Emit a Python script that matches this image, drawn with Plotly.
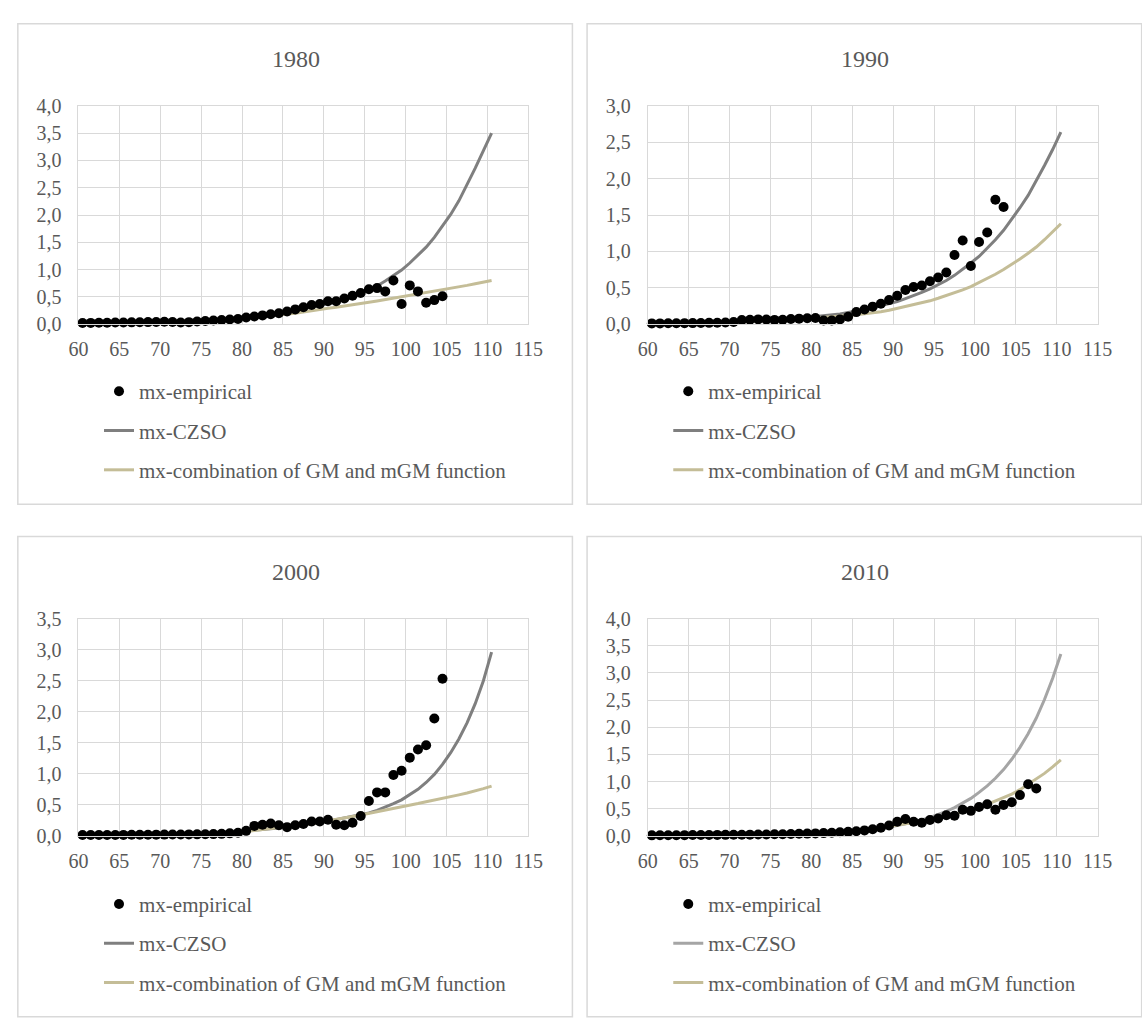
import plotly.graph_objects as go

# Ages at mid-year (60.5 ... 110.5)
AGES = [a + 0.5 for a in range(60, 111)]

# ---- 1980 ----
EMP_1980 = [0.020, 0.022, 0.024, 0.026, 0.028, 0.030, 0.032, 0.034, 0.037, 0.040,
            0.044, 0.038, 0.030, 0.036, 0.048, 0.058, 0.066, 0.074, 0.083, 0.095,
            0.12, 0.14, 0.16, 0.18, 0.20, 0.23, 0.27, 0.31, 0.35, 0.37,
            0.42, 0.42, 0.47, 0.52, 0.57, 0.64, 0.66, 0.60, 0.80, 0.37,
            0.71, 0.60, 0.39, 0.44, 0.51]
CZSO_1980 = [0.016, 0.018, 0.020, 0.022, 0.024, 0.027, 0.030, 0.033, 0.037, 0.041,
             0.045, 0.050, 0.056, 0.062, 0.069, 0.077, 0.086, 0.096, 0.107, 0.119,
             0.132, 0.147, 0.163, 0.180, 0.200, 0.225, 0.250, 0.280, 0.310, 0.340,
             0.38, 0.42, 0.46, 0.51, 0.57, 0.63, 0.70, 0.79, 0.89, 0.99,
             1.12, 1.26, 1.41, 1.59, 1.79, 2.01, 2.26, 2.55, 2.86, 3.18, 3.50]
COMB_1980 = [0.016, 0.018, 0.020, 0.022, 0.024, 0.027, 0.030, 0.033, 0.037, 0.041,
             0.045, 0.050, 0.055, 0.061, 0.067, 0.074, 0.081, 0.089, 0.098, 0.108,
             0.118, 0.129, 0.141, 0.154, 0.168, 0.183, 0.200, 0.225, 0.250, 0.270,
             0.290, 0.310, 0.330, 0.355, 0.380, 0.400, 0.425, 0.450, 0.475, 0.500,
             0.525, 0.550, 0.575, 0.600, 0.625, 0.650, 0.680, 0.710, 0.740, 0.770, 0.800]

# ---- 1990 ----
EMP_1990 = [0.010, 0.010, 0.011, 0.012, 0.013, 0.014, 0.015, 0.017, 0.019, 0.022,
            0.030, 0.055, 0.060, 0.065, 0.062, 0.058, 0.060, 0.070, 0.075, 0.080,
            0.085, 0.050, 0.050, 0.065, 0.10, 0.165, 0.20, 0.24, 0.28, 0.33,
            0.39, 0.47, 0.51, 0.53, 0.59, 0.64, 0.71, 0.95, 1.15, 0.80,
            1.13, 1.26, 1.71, 1.61]
CZSO_1990 = [0.012, 0.013, 0.015, 0.016, 0.018, 0.020, 0.022, 0.024, 0.027, 0.030,
             0.034, 0.038, 0.042, 0.047, 0.052, 0.058, 0.065, 0.072, 0.080, 0.090,
             0.100, 0.110, 0.125, 0.140, 0.160, 0.178, 0.200, 0.225, 0.250, 0.280,
             0.31, 0.35, 0.39, 0.435, 0.485, 0.54, 0.60, 0.67, 0.75, 0.84,
             0.93, 1.04, 1.16, 1.29, 1.44, 1.60, 1.77, 1.97, 2.18, 2.40, 2.64]
COMB_1990 = [0.012, 0.013, 0.014, 0.016, 0.017, 0.019, 0.021, 0.023, 0.025, 0.028,
             0.031, 0.034, 0.037, 0.041, 0.045, 0.050, 0.055, 0.061, 0.067, 0.074,
             0.082, 0.090, 0.098, 0.107, 0.117, 0.128, 0.140, 0.155, 0.170, 0.190,
             0.215, 0.240, 0.265, 0.290, 0.320, 0.355, 0.390, 0.430, 0.470, 0.515,
             0.570, 0.625, 0.685, 0.750, 0.820, 0.895, 0.975, 1.060, 1.160, 1.265, 1.380]

# ---- 2000 ----
EMP_2000 = [0.012, 0.012, 0.013, 0.013, 0.014, 0.015, 0.016, 0.017, 0.018, 0.019,
            0.020, 0.021, 0.022, 0.023, 0.024, 0.026, 0.028, 0.032, 0.040, 0.050,
            0.08, 0.16, 0.18, 0.20, 0.17, 0.14, 0.17, 0.19, 0.23, 0.23,
            0.26, 0.18, 0.17, 0.21, 0.32, 0.56, 0.70, 0.70, 0.98, 1.05,
            1.26, 1.39, 1.46, 1.89, 2.53]
CZSO_2000 = [0.010, 0.011, 0.012, 0.013, 0.014, 0.015, 0.017, 0.019, 0.021, 0.023,
             0.025, 0.028, 0.031, 0.034, 0.038, 0.042, 0.047, 0.053, 0.060, 0.068,
             0.080, 0.090, 0.100, 0.110, 0.125, 0.140, 0.155, 0.170, 0.190, 0.210,
             0.235, 0.260, 0.285, 0.310, 0.340, 0.370, 0.410, 0.460, 0.520, 0.580,
             0.66, 0.75, 0.86, 0.99, 1.15, 1.34, 1.56, 1.82, 2.13, 2.50, 2.96]
COMB_2000 = [0.010, 0.011, 0.012, 0.013, 0.014, 0.015, 0.017, 0.019, 0.021, 0.023,
             0.025, 0.027, 0.029, 0.031, 0.034, 0.037, 0.041, 0.046, 0.052, 0.060,
             0.070, 0.085, 0.100, 0.115, 0.130, 0.145, 0.160, 0.180, 0.200, 0.220,
             0.240, 0.265, 0.290, 0.310, 0.335, 0.360, 0.385, 0.410, 0.440, 0.465,
             0.490, 0.520, 0.550, 0.575, 0.600, 0.630, 0.660, 0.690, 0.720, 0.760, 0.800]

# ---- 2010 ----
EMP_2010 = [0.009, 0.010, 0.011, 0.012, 0.013, 0.014, 0.015, 0.016, 0.017, 0.018,
            0.020, 0.021, 0.022, 0.024, 0.026, 0.028, 0.030, 0.033, 0.037, 0.041,
            0.045, 0.050, 0.057, 0.065, 0.073, 0.083, 0.10, 0.12, 0.15, 0.19,
            0.26, 0.31, 0.26, 0.24, 0.29, 0.32, 0.38, 0.37, 0.48, 0.46,
            0.53, 0.58, 0.48, 0.57, 0.62, 0.75, 0.95, 0.87]
CZSO_2010 = [0.006, 0.006, 0.007, 0.007, 0.008, 0.008, 0.009, 0.010, 0.011, 0.012,
             0.013, 0.014, 0.016, 0.018, 0.020, 0.023, 0.026, 0.030, 0.034, 0.039,
             0.045, 0.052, 0.060, 0.070, 0.080, 0.093, 0.107, 0.124, 0.143, 0.165,
             0.19, 0.22, 0.255, 0.295, 0.34, 0.39, 0.45, 0.52, 0.60, 0.69,
             0.80, 0.92, 1.06, 1.22, 1.41, 1.63, 1.88, 2.17, 2.51, 2.90, 3.35]
COMB_2010 = [0.006, 0.006, 0.007, 0.007, 0.008, 0.008, 0.009, 0.010, 0.011, 0.012,
             0.013, 0.014, 0.016, 0.018, 0.020, 0.023, 0.026, 0.030, 0.034, 0.039,
             0.045, 0.051, 0.058, 0.066, 0.075, 0.086, 0.100, 0.120, 0.140, 0.170,
             0.200, 0.220, 0.245, 0.270, 0.300, 0.330, 0.365, 0.400, 0.440, 0.480,
             0.530, 0.580, 0.640, 0.700, 0.770, 0.850, 0.950, 1.040, 1.150, 1.270, 1.400]

YEARS = ["1980", "1990", "2000", "2010"]
Y_MAX = [4.0, 3.0, 3.5, 4.0]
SERIES_NAMES = ["mx-empirical", "mx-CZSO", "mx-combination of GM and mGM function"]

EMPIRICAL = [EMP_1980, EMP_1990, EMP_2000, EMP_2010]
CZSO = [CZSO_1980, CZSO_1990, CZSO_2000, CZSO_2010]
COMBINATION = [COMB_1980, COMB_1990, COMB_2000, COMB_2010]

GRAY_DARK = "#7f7f7f"
GRAY_LIGHT = "#a5a5a5"
TAN = "#c4bd97"
CZSO_COLORS = [GRAY_DARK, GRAY_DARK, GRAY_DARK, GRAY_LIGHT]

FONT = "'Liberation Serif', 'DejaVu Serif', serif"
TEXT = "#595959"
GRID = "#d9d9d9"

W, H = 1142, 1021


def fx(x):
    return x / W


def fy(y):
    return 1 - y / H


# panel placement in pixels: column offsets and row offsets
COL_DX = [0, 582, 0, 582]
ROW_PLOT = [(97, 320), (97, 320), (621, 843), (621, 843)]
ROW_DY = [0, 0, 524, 524]

fig = go.Figure()
shapes = []
annotations = []

for i in range(4):
    n = i + 1
    xa = "x" if n == 1 else f"x{n}"
    ya = "y" if n == 1 else f"y{n}"
    leg = "legend" if n == 1 else f"legend{n}"
    dx, dy = COL_DX[i], ROW_DY[i]
    emp = EMPIRICAL[i]

    fig.add_trace(go.Scatter(
        x=AGES, y=CZSO[i], mode="lines", name=SERIES_NAMES[1],
        line=dict(color=CZSO_COLORS[i], width=3), xaxis=xa, yaxis=ya,
        legend=leg, legendgroup=f"c{n}", legendrank=2, cliponaxis=False))
    fig.add_trace(go.Scatter(
        x=AGES, y=COMBINATION[i], mode="lines", name=SERIES_NAMES[2],
        line=dict(color=TAN, width=3), xaxis=xa, yaxis=ya,
        legend=leg, legendgroup=f"g{n}", legendrank=3, cliponaxis=False))
    fig.add_trace(go.Scatter(
        x=AGES[:len(emp)], y=emp, mode="markers", name=SERIES_NAMES[0],
        marker=dict(color="black", size=10), xaxis=xa, yaxis=ya,
        legend=leg, legendgroup=f"e{n}", legendrank=1, cliponaxis=False))

    x0, x1 = 70 + dx, 530 + dx
    y0, y1 = ROW_PLOT[i]
    axis_common = dict(
        showgrid=True, gridcolor=GRID, gridwidth=1, zeroline=False,
        showline=True, linecolor=GRID, linewidth=1, mirror=True, ticks="",
        tickfont=dict(family=FONT, size=20, color=TEXT), fixedrange=True)
    fig.update_layout({
        ("xaxis" if n == 1 else f"xaxis{n}"): dict(
            domain=[fx(x0), fx(x1)], anchor=ya, range=[60, 115],
            tick0=60, dtick=5, ticklabelstandoff=7, **axis_common),
        ("yaxis" if n == 1 else f"yaxis{n}"): dict(
            domain=[fy(y1), fy(y0)], anchor=xa, range=[0, Y_MAX[i]],
            tick0=0, dtick=0.5, tickformat=".1f", ticklabelstandoff=12,
            **axis_common),
        leg: dict(
            x=fx(91 + dx), y=fy(368 + dy), xanchor="left", yanchor="top",
            xref="paper", yref="paper", bgcolor="rgba(0,0,0,0)",
            font=dict(family=FONT, size=21, color=TEXT),
            tracegroupgap=9, traceorder="grouped", itemclick=False),
    })

    # chart frame
    shapes.append(dict(type="rect", xref="paper", yref="paper",
                       x0=fx(8 + dx), x1=fx(575 + dx),
                       y0=fy(504 + dy), y1=fy(13 + dy),
                       line=dict(color=GRID, width=1.5), layer="below"))
    annotations.append(dict(text=YEARS[i], xref="paper", yref="paper",
                            x=fx(292 + dx), y=fy(49 + dy),
                            xanchor="center", yanchor="middle", showarrow=False,
                            font=dict(family=FONT, size=24, color=TEXT)))

fig.update_layout(
    width=W, height=H, margin=dict(l=0, r=0, t=0, b=0),
    paper_bgcolor="white", plot_bgcolor="white",
    separators=", ", showlegend=True,
    font=dict(family=FONT, color=TEXT),
    shapes=shapes, annotations=annotations,
)

fig.write_html("out.html")
